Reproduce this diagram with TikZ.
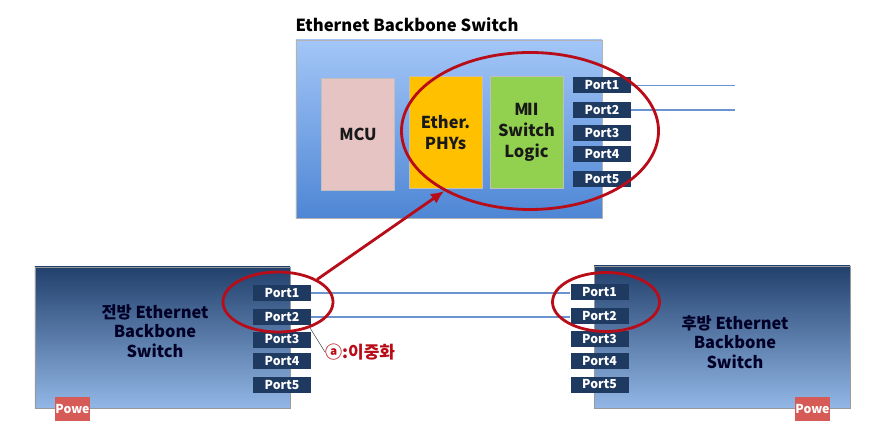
\documentclass[tikz,border=0pt]{standalone}
\usepackage{fontspec}
\setmainfont{Noto Sans CJK KR}
\usepackage{xcolor}
\usepackage{tikz}
\usetikzlibrary{positioning, shapes.geometric}
\usetikzlibrary{arrows.meta}

\definecolor{portblue}{HTML}{1F3A60}
\definecolor{skytop}{HTML}{A3C6F7}
\definecolor{skybot}{HTML}{4E86D5}
\definecolor{navytop}{HTML}{22406C}
\definecolor{navybot}{HTML}{92B7E6}
\definecolor{mcupink}{HTML}{E6C4C4}
\definecolor{phyorange}{HTML}{FFC000}
\definecolor{miigreen}{HTML}{92D050}
\definecolor{ringred}{HTML}{B80C18}
\definecolor{linkblue}{HTML}{6A93CF}
\definecolor{powred}{HTML}{D65A55}

\begin{document}
\begin{tikzpicture}[x=0.03cm, y=-0.03cm]
            \tikzset{port/.style = {fill=portblue, text=white, inner sep=0pt,
                minimum width=1.74cm, minimum height=0.48cm,
                font=\bfseries\fontsize{10.5}{11}\selectfont}}
            \tikzset{chip/.style = {draw=black!25, text=black!90, align=center, inner sep=0pt,
                minimum width=2.2cm, minimum height=3.36cm,
                font=\bfseries\fontsize{14}{18}\selectfont}}
            \tikzset{ring/.style = {ellipse, draw=ringred, line width=2.4pt, inner sep=0pt}}
            \tikzset{link/.style = {linkblue, line width=1.2pt}}
            \tikzset{powbox/.style = {fill=powred, text=white, inner sep=0pt,
                minimum width=0.93cm, minimum height=0.72cm,
                font=\bfseries\fontsize{10.5}{11}\selectfont}}
            \tikzset{swlabel/.style = {text=black!85!blue, align=center,
                font=\bfseries\fontsize{14}{16.8}\selectfont}}

            \useasboundingbox (0,0) rectangle (879,431);

            % main switch
            \node[draw=black!30, top color=skytop, bottom color=skybot,
                minimum width=9.18cm, minimum height=5.34cm] (top) at (449,129) {};
            \node[font=\bfseries\fontsize{14.2}{16}\selectfont] (title) at (407,25) {Ethernet Backbone Switch};

            \node[chip, fill=mcupink] (mcu) at (358,134) {MCU};
            \node[chip, fill=phyorange] (phy) at (445.5,132.5) {Ether.\\PHYs};
            \node[chip, fill=miigreen] (mii) at (526.5,132) {M\kern-3.5pt Ⅱ\kern-2pt\\Switch\\Logic};

            \node[port] (tp1) at (602,85.5) {Port1};
            \node[port] (tp2) at (602,110) {Port2};
            \node[port] (tp3) at (602,133) {Port3};
            \node[port] (tp4) at (602,154.5) {Port4};
            \node[port] (tp5) at (602,179) {Port5};

            \coordinate (te1) at (735,85.5);
            \coordinate (te2) at (735,110);
            \draw[link] (tp1.east) -- (te1);
            \draw[link] (tp2.east) -- (te2);

            % front switch
            \node[draw=black!40, top color=navytop, bottom color=navybot,
                minimum width=7.65cm, minimum height=4.23cm] (lsw) at (162.5,337.5) {};
            \node[swlabel] (llbl) at (155,331) {전방 Ethernet\\Backbone\\Switch};
            \node[powbox] (lpow) at (72.5,409) {Powe};

            \node[port] (lp1) at (282,293) {Port1};
            \node[port] (lp2) at (282,317) {Port2};
            \node[port] (lp3) at (282,339.5) {Port3};
            \node[port] (lp4) at (282,361) {Port4};
            \node[port] (lp5) at (282,385) {Port5};

            % rear switch
            \node[draw=black!40, top color=navytop, bottom color=navybot,
                minimum width=7.68cm, minimum height=4.26cm] (rsw) at (722,337) {};
            \node[swlabel] (rlbl) at (735,342) {후방 Ethernet\\Backbone\\Switch};
            \node[powbox] (rpow) at (812.5,409) {Powe};

            \node[port] (rp1) at (599.5,292) {Port1};
            \node[port] (rp2) at (599.5,316) {Port2};
            \node[port] (rp3) at (599.5,339) {Port3};
            \node[port] (rp4) at (599.5,361) {Port4};
            \node[port] (rp5) at (599.5,384.5) {Port5};

            \draw[link] (lp1.east) -- (lp1.east -| rp1.west);
            \draw[link] (lp2.east) -- (lp2.east -| rp2.west);

            % redundancy marks
            \node[ring, minimum width=7.71cm, minimum height=4.71cm] (tring) at (530,131) {};
            \node[ring, minimum width=3.3cm, minimum height=1.8cm] (lring) at (278,302) {};
            \node[ring, minimum width=3.21cm, minimum height=1.77cm] (rring) at (606,302) {};

            \draw[ringred, line width=2.4pt, -{Latex[length=4mm, width=3.5mm]}] (lring.30) -- (tring.215);

            \node[text=ringred, anchor=west, inner sep=0pt,
                font=\bfseries\fontsize{14.5}{16}\selectfont] (dual) at (325,352) {ⓐ:이중화};
            \coordinate (lead) at (310,328);
            \draw[black!80, thin] (lead) -- (dual.west);

        \end{tikzpicture}
\end{document}
